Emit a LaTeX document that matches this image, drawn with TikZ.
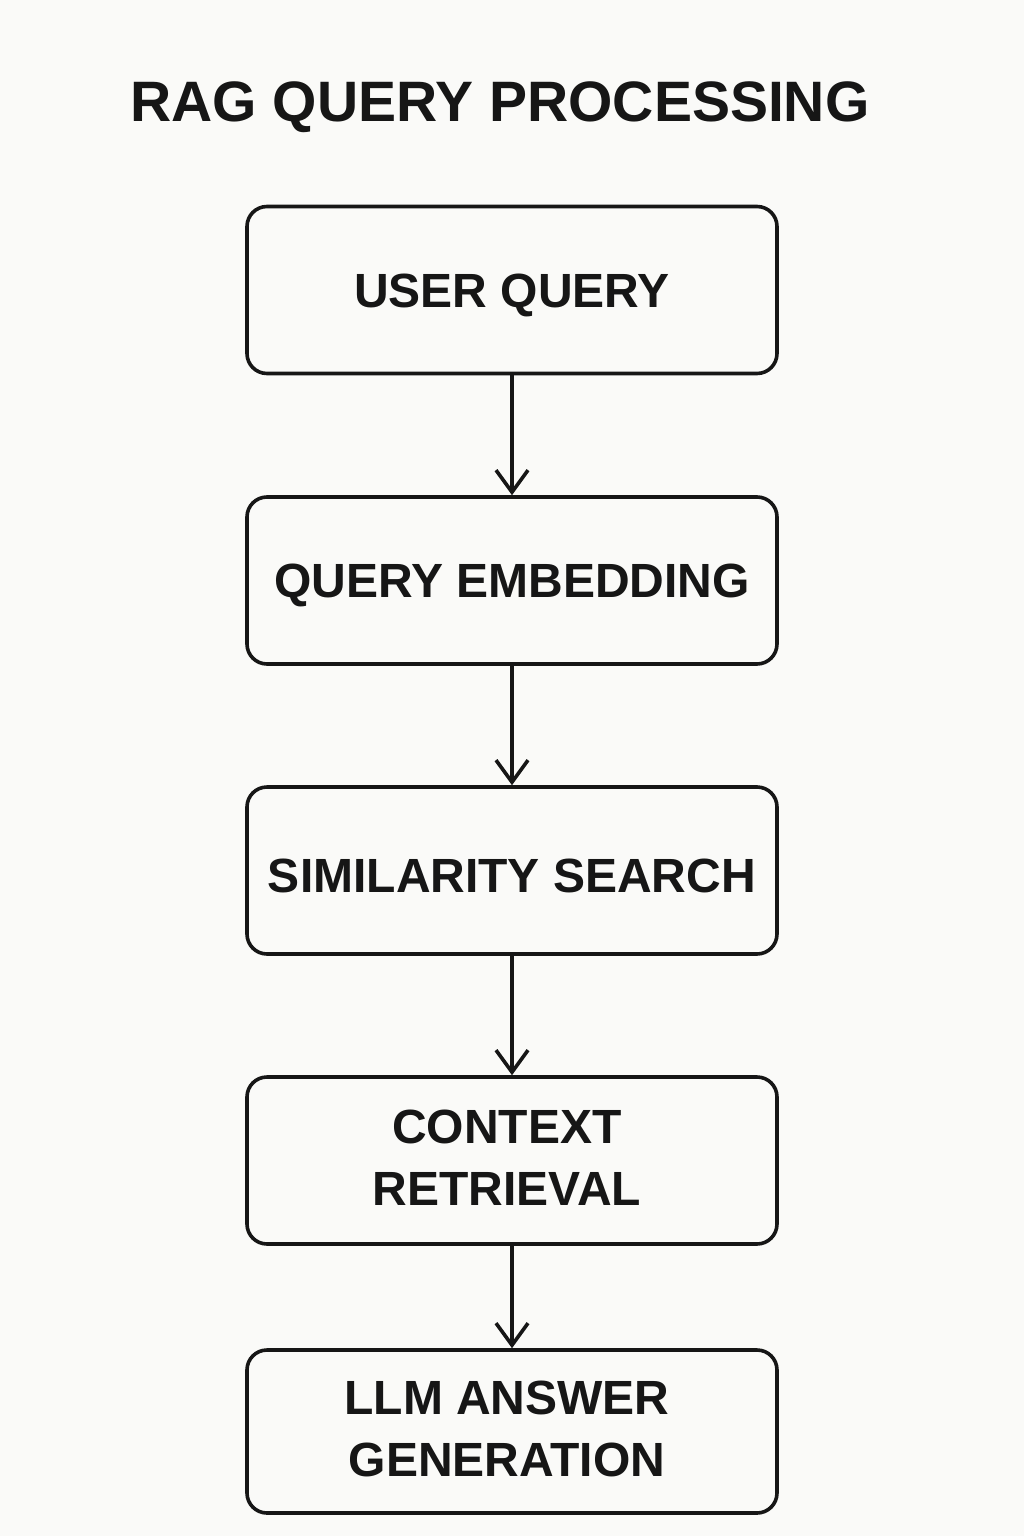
\documentclass[tikz,border=0pt]{standalone}
\usepackage{fontspec}
\setmainfont{Liberation Sans}
\usetikzlibrary{arrows.meta}
\definecolor{bgc}{HTML}{FAFAF8}
\definecolor{ink}{HTML}{161616}
\tikzset{
  stepbox/.style={draw=ink, line width=3.6pt, rounded corners=20pt, minimum width=530pt, minimum height=167pt, inner sep=0pt},
  lbl/.style={align=center, text=ink, inner sep=0pt, yshift=-5pt, font=\fontsize{48}{62}\selectfont\bfseries},
  lbltwo/.style={lbl, yshift=8pt, xshift=-5pt},
  flow/.style={draw=ink, line width=3.2pt, -{Straight Barb[length=22pt,width=32pt,line width=3.6pt]}}
}
\begin{document}
\begin{tikzpicture}[x=1pt,y=-1pt]
\fill[bgc] (0,0) rectangle (1024,1536);
\useasboundingbox (0,0) rectangle (1024,1536);
\node[text=ink, inner sep=0pt, font=\fontsize{57}{68}\selectfont\bfseries] (title) at (500,107) {RAG QUERY PROCESSING};
\node[stepbox] (b1) at (512,290) {};
\node[stepbox] (b2) at (512,580.5) {};
\node[stepbox] (b3) at (512,870.5) {};
\node[stepbox] (b4) at (512,1160.5) {};
\node[stepbox, minimum height=163pt] (b5) at (512,1431.5) {};
\node[lbl] (t1) at (b1) {USER QUERY};
\node[lbl] (t2) at (b2) {QUERY EMBEDDING};
\node[lbl] (t3) at (b3) {SIMILARITY SEARCH};
\node[lbltwo] (t4) at (b4) {CONTEXT\\RETRIEVAL};
\node[lbltwo] (t5) at (b5) {LLM ANSWER\\GENERATION};
\draw[flow] (b1) -- (b2);
\draw[flow] (b2) -- (b3);
\draw[flow] (b3) -- (b4);
\draw[flow] (b4) -- (b5);
\end{tikzpicture}
\end{document}
